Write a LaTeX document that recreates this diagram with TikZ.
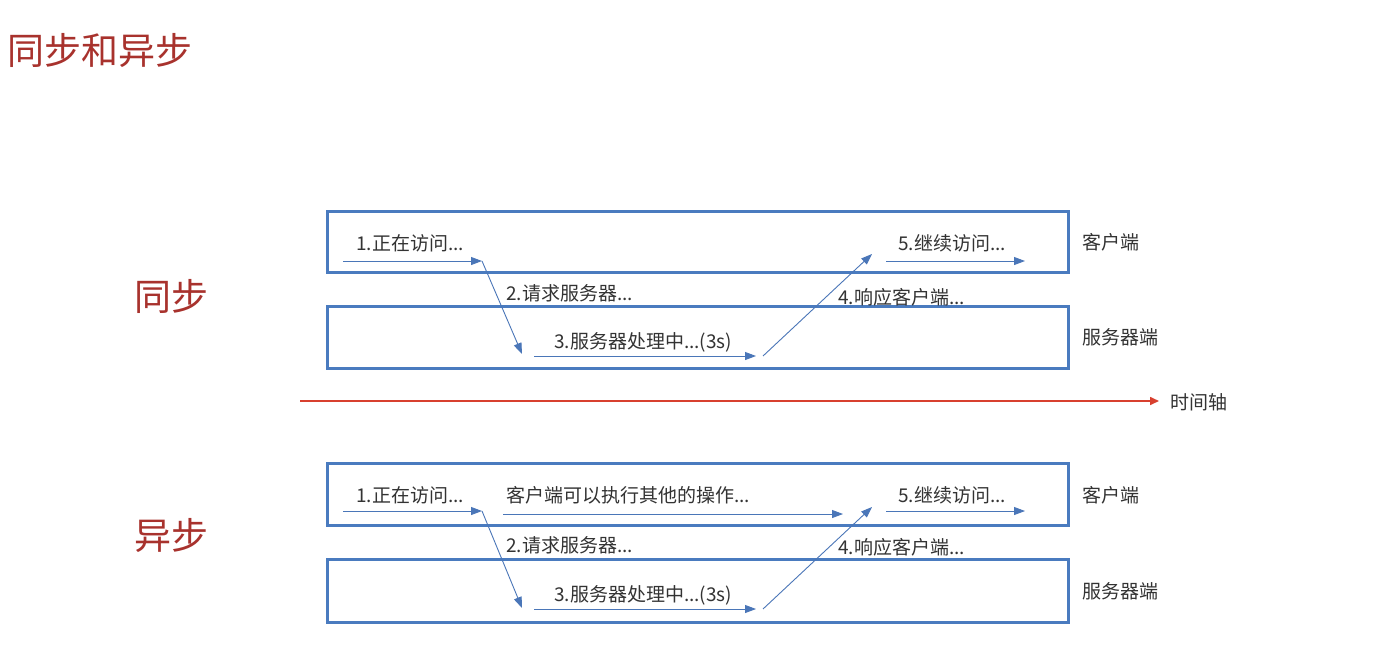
\documentclass[tikz,border=0pt]{standalone}
\usepackage{fontspec}
\setmainfont{Noto Sans CJK SC}
\usetikzlibrary{arrows.meta}
\definecolor{boxblue}{HTML}{4A7BBF}
\definecolor{arrblue}{HTML}{4A76B8}
\definecolor{titlered}{HTML}{A8322D}
\definecolor{axisred}{HTML}{D8402F}
\definecolor{txt}{HTML}{333333}
\tikzset{
  lane/.style={draw=boxblue, line width=3pt},
  flow/.style={draw=arrblue, line width=0.9pt, -{Triangle[length=11pt,width=8pt]}},
  lbl/.style={anchor=west, inner sep=0pt, text=txt, font=\fontsize{19}{19}\selectfont},
  side/.style={anchor=west, inner sep=0pt, text=txt, font=\fontsize{19}{19}\selectfont},
  head/.style={anchor=west, inner sep=0pt, text=titlered, font=\fontsize{37}{37}\selectfont},
}
\begin{document}
\begin{tikzpicture}[x=1pt,y=-1pt]
\useasboundingbox (0,0) rectangle (1384,651);
\fill[white] (0,0) rectangle (1384,651);

\node[head] (title) at (7,50) {同步和异步};
\node[head] (sync) at (134,296) {同步};
\node[head] (async) at (134,535) {异步};

% ---------- synchronous ----------
\draw[lane] (327,211) rectangle (1068,272);
\draw[lane] (327,306) rectangle (1068,368);
\node[side] (sc) at (1082,242) {客户端};
\node[side] (ss) at (1082,337) {服务器端};

\coordinate (s1a) at (343,261);
\coordinate (s1b) at (482,261);
\coordinate (s2b) at (522,354);
\coordinate (s3a) at (534,356);
\coordinate (s3b) at (756,356);
\coordinate (s4a) at (763,356);
\coordinate (s4b) at (872,254);
\coordinate (s5a) at (886,261);
\coordinate (s5b) at (1025,261);
\draw[flow] (s1a) -- (s1b);
\draw[flow] (s1b) -- (s2b);
\draw[flow] (s3a) -- (s3b);
\draw[flow] (s4a) -- (s4b);
\draw[flow] (s5a) -- (s5b);
\node[lbl] (sl1) at (356,243) {1.正在访问...};
\node[lbl] (sl2) at (506,293) {2.请求服务器...};
\node[lbl] (sl3) at (554,342) {3.服务器处理中...(3s)};
\node[lbl] (sl4) at (838,297) {4.响应客户端...};
\node[lbl] (sl5) at (898,243) {5.继续访问...};

% ---------- time axis ----------
\coordinate (ta) at (300,401);
\coordinate (tb) at (1159,401);
\draw[draw=axisred, line width=1.6pt, -{Triangle[length=9pt,width=8pt]}] (ta) -- (tb);
\node[side] (axis) at (1170,402) {时间轴};

% ---------- asynchronous ----------
\draw[lane] (327,463) rectangle (1068,525);
\draw[lane] (327,559) rectangle (1068,622);
\node[side] (ac) at (1082,495) {客户端};
\node[side] (as) at (1082,591) {服务器端};

\coordinate (a1a) at (343,511);
\coordinate (a1b) at (482,511);
\coordinate (a2b) at (522,608);
\coordinate (a3a) at (534,609);
\coordinate (a3b) at (756,609);
\coordinate (a4a) at (763,609);
\coordinate (a4b) at (872,507);
\coordinate (a5a) at (886,511);
\coordinate (a5b) at (1025,511);
\coordinate (aoa) at (503,514);
\coordinate (aob) at (843,514);
\draw[flow] (a1a) -- (a1b);
\draw[flow] (a1b) -- (a2b);
\draw[flow] (a3a) -- (a3b);
\draw[flow] (a4a) -- (a4b);
\draw[flow] (a5a) -- (a5b);
\draw[flow] (aoa) -- (aob);
\node[lbl] (al1) at (356,495) {1.正在访问...};
\node[lbl] (alo) at (506,495) {客户端可以执行其他的操作...};
\node[lbl] (al2) at (506,545) {2.请求服务器...};
\node[lbl] (al3) at (554,595) {3.服务器处理中...(3s)};
\node[lbl] (al4) at (838,547) {4.响应客户端...};
\node[lbl] (al5) at (898,495) {5.继续访问...};
\end{tikzpicture}
\end{document}
